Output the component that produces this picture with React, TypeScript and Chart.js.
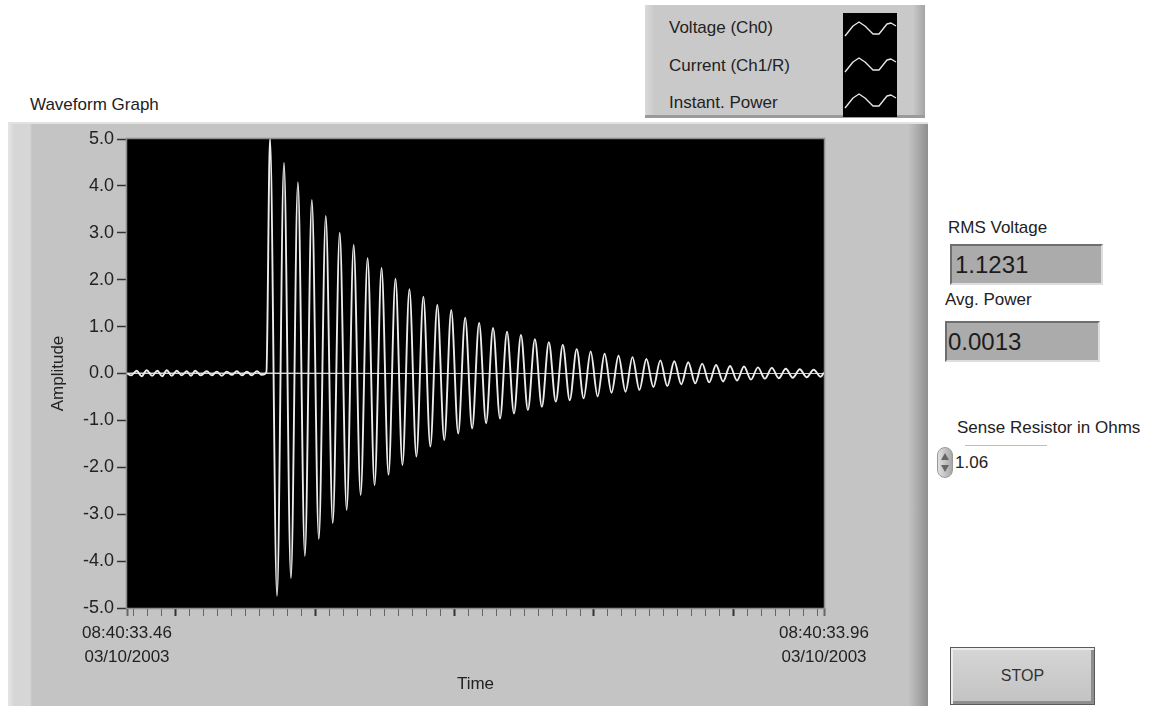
import React, { useEffect, useRef } from "react";
import { Chart, registerables } from "chart.js";

Chart.register(...registerables);

const FONT = "'Liberation Sans', Arial, Helvetica, sans-serif";

// ---------- Data ----------
const graphLabel = "Waveform Graph";
const legendLabels = ["Voltage (Ch0)", "Current (Ch1/R)", "Instant. Power"];
const yAxisTitle = "Amplitude";
const xAxisTitle = "Time";
const xStartLabel = ["08:40:33.46", "03/10/2003"];
const xEndLabel = ["08:40:33.96", "03/10/2003"];
const xMinMs = 0;
const xMaxMs = 500;
const yMin = -5;
const yMax = 5;
const majorTickMs = [35, 135, 235, 335, 435];

// small pre-trigger wiggle (ms from start, amplitude)
const noiseTimes = [0, 3.0, 6.9, 10.5, 14.1, 18.0, 21.8, 25.2, 28.5, 32.1, 35.7, 39.3, 42.9, 45.9, 48.9, 53.0, 57.2, 60.8, 64.4, 68.0, 71.6, 75.2, 78.8, 82.4, 86.0, 89.6, 93.2, 96.8, 100.0];
const noiseValues = [0.0, -0.04, 0.06, -0.06, 0.07, -0.05, 0.06, -0.06, 0.07, -0.05, 0.06, -0.04, 0.05, -0.05, 0.06, -0.04, 0.05, -0.04, 0.04, -0.05, 0.04, -0.03, 0.05, -0.04, 0.04, -0.04, 0.05, -0.03, 0.03];

// damped ring-down: positive peaks
const peakTimes = [102.6, 112.6, 122.6, 132.6, 142.6, 152.6, 162.6, 172.6, 182.6, 192.6, 202.6, 212.6, 222.6, 232.6, 242.6, 252.6, 262.6, 272.6, 282.6, 292.6, 302.6, 312.6, 322.6, 332.6, 342.6, 352.6, 362.6, 372.6, 382.6, 392.6, 402.6, 412.6, 422.6, 432.6, 442.6, 452.6, 462.6, 472.6, 482.6, 492.6];
const peakValues = [5.02, 4.49, 4.08, 3.70, 3.36, 3.00, 2.74, 2.46, 2.25, 2.02, 1.80, 1.64, 1.46, 1.35, 1.19, 1.08, 0.97, 0.89, 0.82, 0.73, 0.67, 0.61, 0.52, 0.47, 0.42, 0.38, 0.35, 0.31, 0.28, 0.26, 0.24, 0.21, 0.18, 0.16, 0.15, 0.13, 0.12, 0.10, 0.09, 0.08];

// damped ring-down: negative troughs
const troughTimes = [107.6, 117.6, 127.6, 137.6, 147.6, 157.6, 167.6, 177.6, 187.6, 197.6, 207.6, 217.6, 227.6, 237.6, 247.6, 257.6, 267.6, 277.6, 287.6, 297.6, 307.6, 317.6, 327.6, 337.6, 347.6, 357.6, 367.6, 377.6, 387.6, 397.6, 407.6, 417.6, 427.6, 437.6, 447.6, 457.6, 467.6, 477.6, 487.6, 497.6];
const troughValues = [-4.74, -4.36, -3.89, -3.53, -3.19, -2.91, -2.59, -2.38, -2.16, -1.95, -1.77, -1.56, -1.42, -1.28, -1.17, -1.06, -0.96, -0.85, -0.78, -0.71, -0.60, -0.57, -0.53, -0.49, -0.41, -0.39, -0.35, -0.29, -0.27, -0.23, -0.21, -0.19, -0.17, -0.15, -0.13, -0.11, -0.10, -0.09, -0.08, -0.07];

const endTime = 500;
const endValue = 0.02;

const currentTimes = [0, 100, 200, 300, 400, 500];
const currentValues = [0.01, 0.01, 0.0, 0.0, 0.0, 0.0];
const powerTimes = [0, 250, 500];
const powerValues = [0.0, 0.0, 0.0];

const rmsVoltageLabel = "RMS Voltage";
const rmsVoltage = "1.1231";
const avgPowerLabel = "Avg. Power";
const avgPower = "0.0013";
const senseLabel = "Sense Resistor in Ohms";
const senseValue = "1.06";
const stopLabel = "STOP";

// ---------- build tables ----------
function buildVoltage() {
  const pts: { x: number; y: number }[] = [];
  noiseTimes.forEach((t, i) => pts.push({ x: t, y: noiseValues[i] }));
  peakTimes.forEach((t, i) => pts.push({ x: t, y: peakValues[i] }));
  troughTimes.forEach((t, i) => pts.push({ x: t, y: troughValues[i] }));
  pts.push({ x: endTime, y: endValue });
  pts.sort((a, b) => a.x - b.x);
  return pts;
}

const xTickPositions: number[] = [xMinMs];
for (let t = 5; t < xMaxMs; t += 10) xTickPositions.push(t);
xTickPositions.push(xMaxMs);

const plotFrame = {
  id: "plotFrame",
  beforeDatasetsDraw(chart: any) {
    const { ctx, chartArea: a } = chart;
    ctx.save();
    ctx.fillStyle = "#000";
    ctx.fillRect(a.left, a.top, a.right - a.left, a.bottom - a.top);
    ctx.restore();
  },
  afterDatasetsDraw(chart: any) {
    const { ctx, chartArea: a } = chart;
    ctx.save();
    ctx.strokeStyle = "#8c8c8c";
    ctx.lineWidth = 1.5;
    ctx.strokeRect(a.left - 0.5, a.top - 0.5, a.right - a.left + 1, a.bottom - a.top + 1);
    ctx.restore();
  },
};

function WaveChart() {
  const ref = useRef<HTMLCanvasElement | null>(null);
  useEffect(() => {
    if (!ref.current) return;
    const chart = new Chart(ref.current, {
      type: "line",
      data: {
        datasets: [
          {
            label: legendLabels[0],
            data: buildVoltage(),
            borderColor: "#ececec",
            borderWidth: 1.9,
            pointRadius: 0,
            cubicInterpolationMode: "monotone",
            order: 1,
          },
          {
            label: legendLabels[1],
            data: currentTimes.map((t, i) => ({ x: t, y: currentValues[i] })),
            borderColor: "#cfcfcf",
            borderWidth: 1,
            pointRadius: 0,
            order: 2,
          },
          {
            label: legendLabels[2],
            data: powerTimes.map((t, i) => ({ x: t, y: powerValues[i] })),
            borderColor: "#dddddd",
            borderWidth: 1,
            pointRadius: 0,
            order: 3,
          },
        ],
      },
      options: {
        animation: false,
        responsive: false,
        maintainAspectRatio: false,
        devicePixelRatio: 1,
        layout: { padding: { left: 0, right: 104, top: 17, bottom: 0 } },
        plugins: { legend: { display: false }, tooltip: { enabled: false } },
        scales: {
          x: {
            type: "linear",
            min: xMinMs,
            max: xMaxMs,
            afterFit: (s: any) => {
              s.height = 98;
            },
            afterBuildTicks: (s: any) => {
              s.ticks = xTickPositions.map((v) => ({ value: v }));
            },
            border: { display: false },
            grid: {
              drawOnChartArea: false,
              drawTicks: true,
              tickLength: 8,
              tickColor: (c: any) => (c.tick && majorTickMs.includes(c.tick.value) ? "#333" : "#666"),
              tickWidth: (c: any) => (c.tick && (majorTickMs.includes(c.tick.value) || c.tick.value === xMinMs || c.tick.value === xMaxMs) ? 2 : 1),
            },
            ticks: {
              autoSkip: false,
              maxRotation: 0,
              padding: 5,
              color: "#222",
              font: { family: FONT, size: 17, lineHeight: 1.41 },
              callback: (v: any) => (v === xMinMs ? xStartLabel : v === xMaxMs ? xEndLabel : ""),
            },
            title: {
              display: true,
              text: xAxisTitle,
              color: "#222",
              font: { family: FONT, size: 17 },
              padding: { top: 0, bottom: 11 },
            },
          },
          y: {
            type: "linear",
            min: yMin,
            max: yMax,
            afterFit: (s: any) => {
              s.width = 117;
            },
            border: { display: false },
            grid: { drawOnChartArea: false, tickLength: 10, tickColor: "#333", tickWidth: 1.5 },
            ticks: {
              stepSize: 1,
              padding: 3,
              color: "#222",
              font: { family: FONT, size: 18 },
              callback: (v: any) => Number(v).toFixed(1),
            },
            title: {
              display: true,
              text: yAxisTitle,
              color: "#222",
              font: { family: FONT, size: 17 },
              padding: { top: 38, bottom: 0 },
            },
          },
        },
      },
      plugins: [plotFrame],
    } as any);
    return () => chart.destroy();
  }, []);
  return <canvas ref={ref} width={918} height={584} style={{ width: 918, height: 584, display: "block" }} />;
}

function WaveIcon() {
  return (
    <svg width="54" height="30" viewBox="0 0 54 30">
      <path d="M2 22 L10 12 L16 8 L22 12 L30 20 L36 20 L44 10 L48 9 L53 12" stroke="#e6e6e6" strokeWidth="1.4" fill="none" strokeLinejoin="round" />
    </svg>
  );
}

const txt: React.CSSProperties = { position: "absolute", fontFamily: FONT, color: "#222", whiteSpace: "nowrap", lineHeight: "20px" };

export default function App() {
  return (
    <div style={{ position: "fixed", left: 0, top: 0, width: 1164, height: 706, overflow: "hidden", background: "#fff", fontFamily: FONT }}>
      {/* Legend */}
      <div
        style={{
          position: "absolute",
          left: 645,
          top: 5,
          width: 280,
          height: 113,
          background: "linear-gradient(to right, #dadada 0px, #c9c9c9 10px, #c9c9c9 268px, #a4a4a4 280px)",
          borderBottom: "3px solid #9a9a9a",
          boxSizing: "border-box",
        }}
      >
        {legendLabels.map((l, i) => (
          <div key={l} style={{ ...txt, left: 24, top: 13 + i * 37.5, fontSize: 17 }}>
            {l}
          </div>
        ))}
        <div style={{ position: "absolute", left: 198, top: 8, width: 54, height: 104, background: "#000" }}>
          {legendLabels.map((l, i) => (
            <div key={l} style={{ position: "absolute", left: 0, top: 1 + i * 36 }}>
              <WaveIcon />
            </div>
          ))}
        </div>
      </div>

      {/* Graph label */}
      <div style={{ ...txt, left: 30, top: 95, fontSize: 17 }}>{graphLabel}</div>

      {/* Graph frame */}
      <div
        style={{
          position: "absolute",
          left: 8,
          top: 122,
          width: 920,
          height: 600,
          background: "linear-gradient(to right, #e6e6e6 0px, #d6d6d6 6px, #d6d6d6 22px, #c4c4c4 24px, #c4c4c4 900px, #b0b0b0 908px, #8e8e8e 920px)",
          borderTop: "2px solid #e2e2e2",
          boxSizing: "border-box",
        }}
      />
      <div style={{ position: "absolute", left: 10, top: 122 }}>
        <WaveChart />
      </div>

      {/* RMS Voltage */}
      <div style={{ ...txt, left: 948, top: 218, fontSize: 17 }}>{rmsVoltageLabel}</div>
      <div
        style={{
          position: "absolute",
          left: 950,
          top: 244,
          width: 153,
          height: 41,
          background: "#ababab",
          border: "2px solid",
          borderColor: "#6e6e6e #dedede #dedede #6e6e6e",
          boxSizing: "border-box",
          fontSize: 24,
          lineHeight: "37px",
          paddingLeft: 3,
          color: "#1c1c1c",
        }}
      >
        {rmsVoltage}
      </div>

      {/* Avg Power */}
      <div style={{ ...txt, left: 945, top: 290, fontSize: 17 }}>{avgPowerLabel}</div>
      <div
        style={{
          position: "absolute",
          left: 945,
          top: 321,
          width: 155,
          height: 41,
          background: "#ababab",
          border: "2px solid",
          borderColor: "#6e6e6e #dedede #dedede #6e6e6e",
          boxSizing: "border-box",
          fontSize: 24,
          lineHeight: "37px",
          paddingLeft: 1,
          color: "#1c1c1c",
        }}
      >
        {avgPower}
      </div>

      {/* Sense resistor */}
      <div style={{ ...txt, left: 957, top: 418, fontSize: 17 }}>{senseLabel}</div>
      <div style={{ position: "absolute", left: 965, top: 445, width: 82, height: 1, background: "#bdbdbd" }} />
      <div
        style={{
          position: "absolute",
          left: 937,
          top: 447,
          width: 16,
          height: 31,
          borderRadius: 8,
          background: "linear-gradient(to right, #e0e0e0, #a8a8a8)",
          border: "1px solid #9a9a9a",
          boxSizing: "border-box",
        }}
      >
        <svg width="14" height="29" viewBox="0 0 14 29" style={{ position: "absolute", left: 0, top: 0 }}>
          <path d="M3 12 L7 5 L11 12 Z" fill="#666" />
          <path d="M3 17 L7 24 L11 17 Z" fill="#666" />
        </svg>
      </div>
      <div style={{ ...txt, left: 955, top: 453, fontSize: 17 }}>{senseValue}</div>

      {/* STOP button */}
      <div
        style={{
          position: "absolute",
          left: 950,
          top: 647,
          width: 145,
          height: 58,
          background: "linear-gradient(#d6d6d6, #c2c2c2)",
          border: "1px solid #5a5a5a",
          boxShadow: "inset 2px 2px 0 #ececec, inset -3px -3px 0 #8e8e8e",
          boxSizing: "border-box",
          display: "flex",
          alignItems: "center",
          justifyContent: "center",
          fontSize: 16,
          color: "#333",
        }}
      >
        {stopLabel}
      </div>
    </div>
  );
}
